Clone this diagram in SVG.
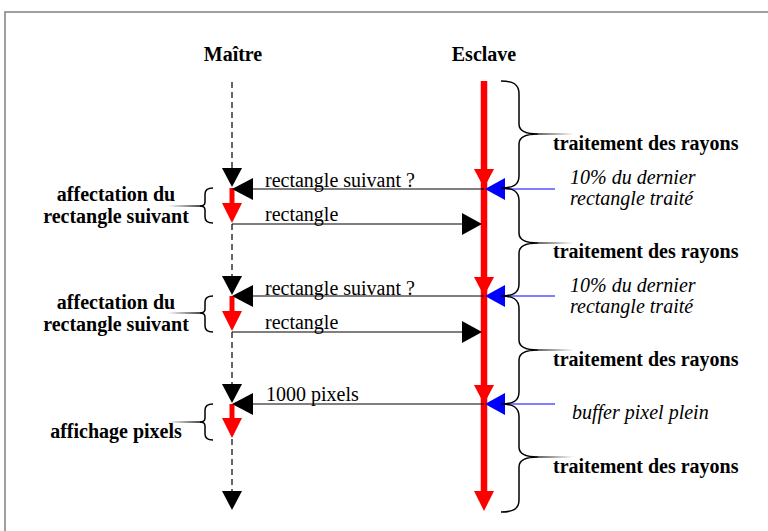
<svg xmlns="http://www.w3.org/2000/svg" width="768" height="531" viewBox="0 0 768 531">
  <style>
    .title { font-family: "Liberation Serif", "Times New Roman", serif; font-size: 20px; font-weight: bold; fill: #000; }
    .msg { font-family: "Liberation Serif", "Times New Roman", serif; font-size: 20px; fill: #000; }
    .note { font-family: "Liberation Serif", "Times New Roman", serif; font-size: 20px; font-style: italic; fill: #000; }
    .dash { stroke: #555; stroke-width: 1.8; stroke-dasharray: 6 4; fill: none; }
    .brace { stroke: #000; stroke-width: 1.5; fill: none; }
    .wire { stroke: #000; stroke-width: 1.2; fill: none; }
    .blue { stroke: #0000ff; stroke-width: 1.2; fill: none; }
    .red { stroke: #ff0000; fill: none; }
    .headK { fill: #000; }
    .headR { fill: #ff0000; }
    .headB { fill: #0000ff; }
  </style>
  <defs>
    <linearGradient id="fadeR" gradientUnits="userSpaceOnUse" x1="530" y1="0" x2="574" y2="0">
      <stop offset="0" stop-color="#000"/>
      <stop offset="1" stop-color="#fff"/>
    </linearGradient>
    <linearGradient id="fadeL" gradientUnits="userSpaceOnUse" x1="168" y1="0" x2="202" y2="0">
      <stop offset="0" stop-color="#fff"/>
      <stop offset="1" stop-color="#000"/>
    </linearGradient>
  </defs>

  <rect width="768" height="531" fill="#fff"/>
  <!-- frame -->
  <path d="M5,531 V12 H768" stroke="#808080" stroke-width="1.5" fill="none"/>

  <!-- lane headers -->
  <g id="maitre">
    <text class="title" x="233" y="61" text-anchor="middle">Maître</text>
  </g>
  <g id="esclave">
    <text class="title" x="484" y="61" text-anchor="middle">Esclave</text>
  </g>

  <!-- master lifeline -->
  <g id="master-lifeline">
    <line class="dash" x1="232" y1="82" x2="232" y2="168"/>
    <polygon class="headK" points="222,168 242,168 232,187"/>
    <line class="red" stroke-width="5" x1="232" y1="188" x2="232" y2="204"/>
    <polygon class="headR" points="222,203 242,203 232,223"/>

    <line class="dash" x1="232" y1="224" x2="232" y2="276"/>
    <polygon class="headK" points="222,276 242,276 232,295"/>
    <line class="red" stroke-width="5" x1="232" y1="296" x2="232" y2="312"/>
    <polygon class="headR" points="222,311 242,311 232,331"/>

    <line class="dash" x1="232" y1="332" x2="232" y2="384"/>
    <polygon class="headK" points="222,384 242,384 232,403"/>
    <line class="red" stroke-width="5" x1="232" y1="404" x2="232" y2="419"/>
    <polygon class="headR" points="222,418 242,418 232,438"/>

    <line class="dash" x1="232" y1="439" x2="232" y2="491"/>
    <polygon class="headK" points="222,491 242,491 232,510"/>
  </g>

  <!-- slave lifeline -->
  <g id="slave-lifeline">
    <line class="red" stroke-width="6.5" x1="484" y1="81" x2="484" y2="495"/>
    <polygon class="headR" points="474,169 494,169 484,188"/>
    <polygon class="headR" points="474,277 494,277 484,296"/>
    <polygon class="headR" points="474,385 494,385 484,404"/>
    <polygon class="headR" points="474,491 494,491 484,511"/>
  </g>

  <!-- messages -->
  <g id="connectors">
    <!-- cycle 1 -->
    <line class="wire" x1="484" y1="189" x2="252" y2="189"/>
    <polygon class="headK" points="253,178 253,200 232,189"/>
    <line class="blue" x1="555" y1="189" x2="504" y2="189"/>
    <polygon class="headB" points="505,178 505,200 485,189"/>
    <line class="wire" x1="232" y1="224" x2="463" y2="224"/>
    <polygon class="headK" points="462,213 462,235 482,224"/>

    <!-- cycle 2 -->
    <line class="wire" x1="484" y1="296" x2="252" y2="296"/>
    <polygon class="headK" points="253,285 253,307 232,296"/>
    <line class="blue" x1="555" y1="296" x2="504" y2="296"/>
    <polygon class="headB" points="505,285 505,307 485,296"/>
    <line class="wire" x1="232" y1="332" x2="463" y2="332"/>
    <polygon class="headK" points="462,321 462,343 482,332"/>

    <!-- cycle 3 -->
    <line class="wire" stroke="#444" x1="484" y1="404" x2="252" y2="404"/>
    <polygon class="headK" points="253,393 253,415 232,404"/>
    <line class="blue" stroke="#4a4aff" x1="555" y1="404" x2="504" y2="404"/>
    <polygon class="headB" points="505,393 505,415 485,404"/>
  </g>

  <!-- message labels -->
  <g id="labels">
    <text class="msg" x="265" y="187">rectangle suivant ?</text>
    <text class="msg" x="265" y="221">rectangle</text>
    <text class="msg" x="265" y="295">rectangle suivant ?</text>
    <text class="msg" x="265" y="329">rectangle</text>
    <text class="msg" x="266" y="401">1000 pixels</text>
  </g>

  <!-- slave-side braces: ray processing phases -->
  <g id="phase-1">
    <path class="brace" d="M501,81 C513,81 519,84 519,94 L519,124 C519,131 525,134 538,134 C525,134 519,137 519,144 L519,176 C519,185 513,188 501,188"/>
    <line x1="534" y1="134" x2="574" y2="134" stroke="url(#fadeR)" stroke-width="1.5"/>
    <text class="title" x="553" y="150">traitement des rayons</text>
  </g>
  <g id="phase-2">
    <path class="brace" d="M501,188 C513,188 519,191 519,201 L519,233 C519,240 525,243 538,243 C525,243 519,246 519,253 L519,284 C519,293 513,296 501,296"/>
    <line x1="534" y1="243" x2="574" y2="243" stroke="url(#fadeR)" stroke-width="1.5"/>
    <text class="title" x="553" y="258">traitement des rayons</text>
  </g>
  <g id="phase-3">
    <path class="brace" d="M501,296 C513,296 519,299 519,309 L519,340 C519,347 525,350 538,350 C525,350 519,353 519,360 L519,392 C519,401 513,404 501,404"/>
    <line x1="534" y1="350" x2="574" y2="350" stroke="url(#fadeR)" stroke-width="1.5"/>
    <text class="title" x="553" y="366">traitement des rayons</text>
  </g>
  <g id="phase-4">
    <path class="brace" d="M501,404 C513,404 519,407 519,417 L519,447 C519,454 525,457 538,457 C525,457 519,460 519,467 L519,500 C519,509 513,512 501,512"/>
    <line x1="534" y1="457" x2="574" y2="457" stroke="url(#fadeR)" stroke-width="1.5"/>
    <text class="title" x="553" y="473">traitement des rayons</text>
  </g>

  <!-- slave-side triggers -->
  <g id="trigger-1">
    <text class="note" x="570" y="184">10% du dernier</text>
    <text class="note" x="570" y="205">rectangle traité</text>
  </g>
  <g id="trigger-2">
    <text class="note" x="570" y="292">10% du dernier</text>
    <text class="note" x="570" y="313">rectangle traité</text>
  </g>
  <g id="trigger-3">
    <text class="note" x="572" y="419">buffer pixel plein</text>
  </g>

  <!-- master-side braces -->
  <g id="assign-1">
    <path class="brace" d="M213,188 C208,188 205,190 205,194 L205,202 C205,205 203,206 200,206 C203,206 205,207 205,210 L205,217 C205,221 208,223 213,223"/>
    <line x1="168" y1="206" x2="201" y2="206" stroke="url(#fadeL)" stroke-width="1.5"/>
    <text class="title" x="116" y="201" text-anchor="middle">affectation du</text>
    <text class="title" x="116" y="223" text-anchor="middle">rectangle suivant</text>
  </g>
  <g id="assign-2">
    <path class="brace" d="M213,296 C208,296 205,298 205,302 L205,309 C205,312 203,313 200,313 C203,313 205,314 205,317 L205,326 C205,330 208,332 213,332"/>
    <line x1="168" y1="313" x2="201" y2="313" stroke="url(#fadeL)" stroke-width="1.5"/>
    <text class="title" x="116" y="309" text-anchor="middle">affectation du</text>
    <text class="title" x="116" y="331" text-anchor="middle">rectangle suivant</text>
  </g>
  <g id="display">
    <path class="brace" d="M213,404 C208,404 205,406 205,410 L205,418 C205,421 203,422 200,422 C203,422 205,423 205,426 L205,434 C205,438 208,440 213,440"/>
    <line x1="168" y1="422" x2="201" y2="422" stroke="url(#fadeL)" stroke-width="1.5"/>
    <text class="title" x="116" y="438" text-anchor="middle">affichage pixels</text>
  </g>
</svg>
